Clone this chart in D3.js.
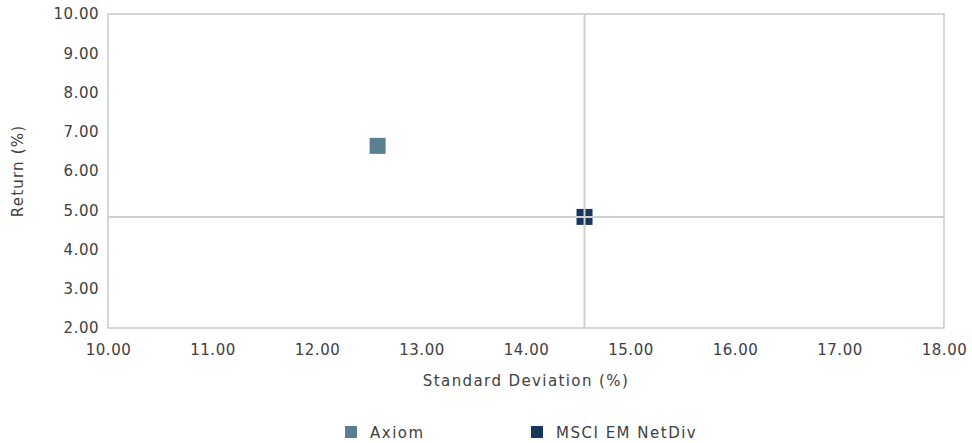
<!DOCTYPE html>
<html><head><meta charset="utf-8">
<script src="https://cdn.jsdelivr.net/npm/d3@7"></script>
<style>body{margin:0;background:#fff;} text{font-family:"DejaVu Sans","Lato",sans-serif;fill:#404040;}</style>
</head><body><svg id="c" width="972" height="443"></svg>
<script>
const seriesNames = ["Axiom", "MSCI EM NetDiv"];
const stdDev = [12.58, 14.56];
const returns = [6.64, 4.83];
const colors = ["#5a7f93", "#17375e"];
const xTicks = [10, 11, 12, 13, 14, 15, 16, 17, 18];
const yTicks = [2, 3, 4, 5, 6, 7, 8, 9, 10];
const crossX = 14.56, crossY = 4.83;

const svg = d3.select("#c");
const L = 108, R = 944, T = 14, B = 328;
const x = d3.scaleLinear().domain([10, 18]).range([L, R]);
const y = d3.scaleLinear().domain([2, 10]).range([B, T]);

svg.append("rect").attr("x", L).attr("y", T).attr("width", R - L).attr("height", B - T)
  .attr("fill", "none").attr("stroke", "#c9c9c9").attr("stroke-width", 1.5);

const sz = 16;
svg.selectAll("rect.pt").data(stdDev).join("rect").attr("class", "pt")
  .attr("x", (d) => x(d) - sz / 2).attr("y", (d, i) => y(returns[i]) - sz / 2)
  .attr("width", sz).attr("height", sz).attr("fill", (d, i) => colors[i]);

svg.append("line").attr("x1", x(crossX)).attr("x2", x(crossX)).attr("y1", T).attr("y2", B)
  .attr("stroke", "#cfcfcf").attr("stroke-width", 2);
svg.append("line").attr("x1", L).attr("x2", R).attr("y1", y(crossY)).attr("y2", y(crossY))
  .attr("stroke", "#cfcfcf").attr("stroke-width", 2);

const xAxis = svg.append("g").attr("transform", `translate(0,${B})`)
  .call(d3.axisBottom(x).tickValues(xTicks).tickFormat(d3.format(".2f")).tickSize(0).tickPadding(16));
xAxis.select(".domain").remove();
xAxis.selectAll("text").style("font-size", "15px").style("letter-spacing", "0.5px")
  .attr("font-family", null).attr("fill", "#404040");

const yAxis = svg.append("g").attr("transform", `translate(${L},0)`)
  .call(d3.axisLeft(y).tickValues(yTicks).tickFormat(d3.format(".2f")).tickSize(0).tickPadding(9));
yAxis.select(".domain").remove();
yAxis.selectAll("text").style("font-size", "15px").style("letter-spacing", "0.5px")
  .attr("font-family", null).attr("fill", "#404040");

svg.append("text").attr("x", (L + R) / 2).attr("y", 386).attr("text-anchor", "middle")
  .style("font-size", "15px").style("letter-spacing", "1.4px").text("Standard Deviation (%)");
svg.append("text").attr("transform", `translate(23,${(T + B) / 2}) rotate(-90)`).attr("text-anchor", "middle")
  .style("font-size", "15px").style("letter-spacing", "1.2px").text("Return (%)");

const legX = [345, 531];
const lg = svg.selectAll("g.leg").data(seriesNames).join("g").attr("class", "leg")
  .attr("transform", (d, i) => `translate(${legX[i]},426)`);
lg.append("rect").attr("width", 12).attr("height", 12).attr("fill", (d, i) => colors[i]);
lg.append("text").attr("x", 25).attr("y", 11.5).style("font-size", "15px").style("letter-spacing", "1.5px").text((d) => d);
</script></body></html>
